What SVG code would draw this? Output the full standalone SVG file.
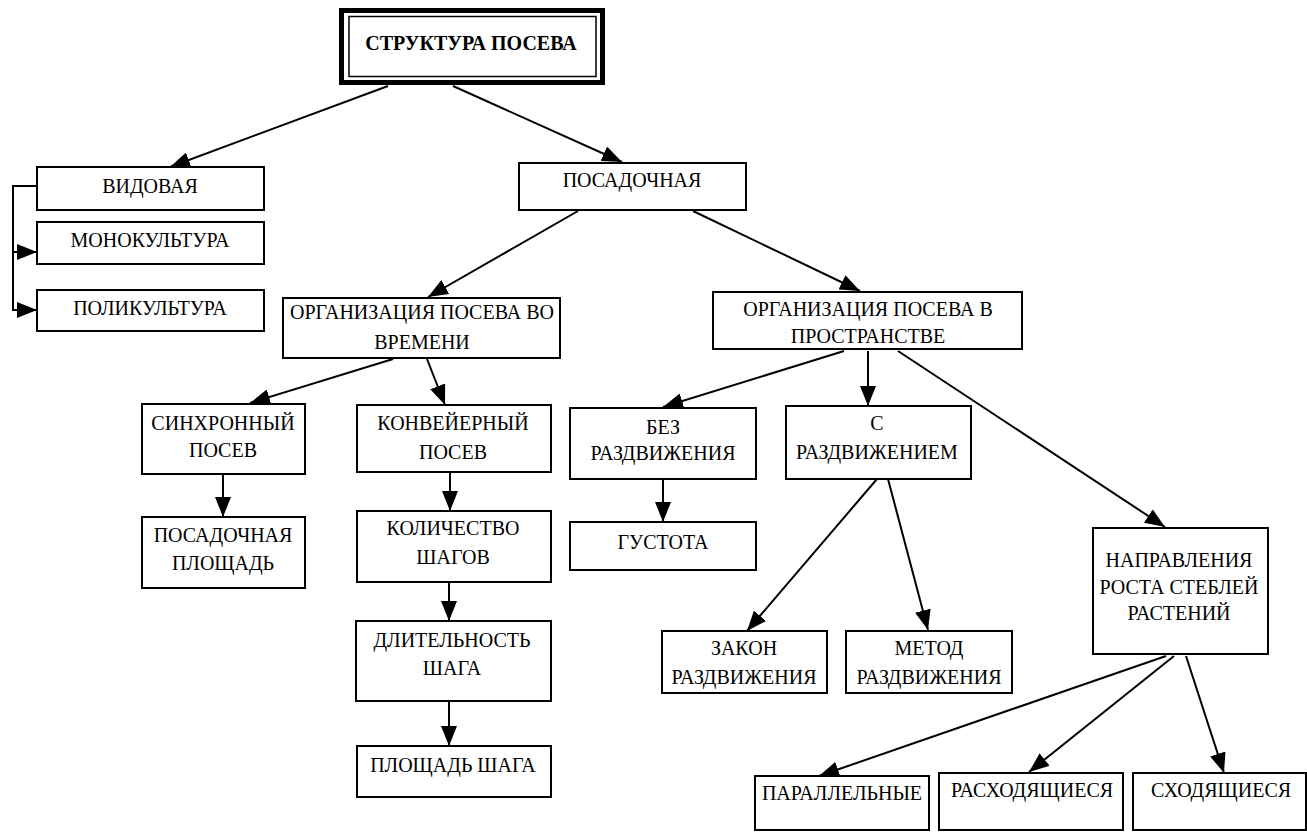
<svg xmlns="http://www.w3.org/2000/svg" width="1307" height="832" viewBox="0 0 1307 832">
<style>
.b{fill:#fff;stroke:#000;stroke-width:2}
.t{font-family:"Liberation Serif","Times New Roman",serif;font-size:20px;fill:#000;text-anchor:middle}
.c{fill:none;stroke:#000;stroke-width:2;marker-end:url(#ah)}
.p{fill:none;stroke:#000;stroke-width:2}
</style>
<defs>
<marker id="ah" markerUnits="userSpaceOnUse" markerWidth="20" markerHeight="16" viewBox="0 0 20 16" refX="20" refY="8" orient="auto">
<path d="M0,0 L20,8 L0,16 Z" fill="#000"/>
</marker>
</defs>
<rect width="1307" height="832" fill="#fff"/>
<g id="connectors">
<line class="c" x1="388" y1="86" x2="170" y2="167"/>
<line class="c" x1="453" y1="86" x2="622" y2="162"/>
<polyline class="p" points="37,186 13,186 13,311"/>
<line class="c" x1="13" y1="252" x2="37" y2="252"/>
<line class="c" x1="13" y1="310" x2="37" y2="310"/>
<line class="c" x1="578" y1="211" x2="428" y2="297"/>
<line class="c" x1="693" y1="211" x2="860" y2="291"/>
<line class="c" x1="393" y1="359" x2="250" y2="403"/>
<line class="c" x1="427" y1="359" x2="445" y2="405"/>
<line class="c" x1="223" y1="474" x2="223" y2="517"/>
<line class="c" x1="450" y1="473" x2="450" y2="511"/>
<line class="c" x1="449" y1="583" x2="449" y2="621"/>
<line class="c" x1="449" y1="702" x2="449" y2="746"/>
<line class="c" x1="844" y1="351" x2="663" y2="407"/>
<line class="c" x1="868" y1="351" x2="868" y2="406"/>
<line class="c" x1="898" y1="351" x2="1165" y2="527"/>
<line class="c" x1="663" y1="479" x2="663" y2="522"/>
<line class="c" x1="877" y1="479" x2="747" y2="631"/>
<line class="c" x1="888" y1="479" x2="928" y2="630"/>
<line class="c" x1="1166" y1="656" x2="819" y2="776"/>
<line class="c" x1="1174" y1="656" x2="1029" y2="772"/>
<line class="c" x1="1186" y1="656" x2="1224" y2="773"/>
</g>
<g id="n-root">
<rect x="341.5" y="10.5" width="261" height="72" fill="#fff" stroke="#000" stroke-width="5"/>
<rect x="349" y="16.5" width="247" height="60" fill="none" stroke="#000" stroke-width="1.5"/>
<text class="t" x="471" y="50" style="font-weight:bold">СТРУКТУРА ПОСЕВА</text>
</g>
<g id="n-vidovaya"><rect class="b" x="37" y="167" width="227" height="43"/><text class="t" x="150" y="193">ВИДОВАЯ</text></g>
<g id="n-mono"><rect class="b" x="37" y="222" width="227" height="42"/><text class="t" x="150" y="247">МОНОКУЛЬТУРА</text></g>
<g id="n-poly"><rect class="b" x="37" y="290" width="227" height="41"/><text class="t" x="150" y="315">ПОЛИКУЛЬТУРА</text></g>
<g id="n-posad"><rect class="b" x="519" y="163" width="227" height="47"/><text class="t" x="632" y="187">ПОСАДОЧНАЯ</text></g>
<g id="n-time"><rect class="b" x="283" y="298" width="277" height="60"/><text class="t" x="422" y="319">ОРГАНИЗАЦИЯ ПОСЕВА ВО</text><text class="t" x="422" y="349">ВРЕМЕНИ</text></g>
<g id="n-space"><rect class="b" x="713" y="292" width="309" height="57"/><text class="t" x="868" y="316">ОРГАНИЗАЦИЯ ПОСЕВА В</text><text class="t" x="868" y="343">ПРОСТРАНСТВЕ</text></g>
<g id="n-sync"><rect class="b" x="142" y="404" width="163" height="70"/><text class="t" x="223" y="430">СИНХРОННЫЙ</text><text class="t" x="223" y="457">ПОСЕВ</text></g>
<g id="n-conv"><rect class="b" x="357" y="405" width="194" height="67"/><text class="t" x="453" y="430">КОНВЕЙЕРНЫЙ</text><text class="t" x="453" y="459">ПОСЕВ</text></g>
<g id="n-area"><rect class="b" x="142" y="517" width="163" height="71"/><text class="t" x="223" y="542">ПОСАДОЧНАЯ</text><text class="t" x="223" y="570">ПЛОЩАДЬ</text></g>
<g id="n-count"><rect class="b" x="357" y="511" width="194" height="71"/><text class="t" x="453" y="535">КОЛИЧЕСТВО</text><text class="t" x="453" y="564">ШАГОВ</text></g>
<g id="n-dur"><rect class="b" x="356" y="621" width="195" height="80"/><text class="t" x="452" y="647">ДЛИТЕЛЬНОСТЬ</text><text class="t" x="452" y="675">ШАГА</text></g>
<g id="n-steparea"><rect class="b" x="357" y="746" width="194" height="51"/><text class="t" x="453" y="772">ПЛОЩАДЬ ШАГА</text></g>
<g id="n-noexp"><rect class="b" x="570" y="408" width="186" height="71"/><text class="t" x="663" y="434">БЕЗ</text><text class="t" x="663" y="460">РАЗДВИЖЕНИЯ</text></g>
<g id="n-dens"><rect class="b" x="570" y="522" width="186" height="48"/><text class="t" x="663" y="549">ГУСТОТА</text></g>
<g id="n-exp"><rect class="b" x="786" y="406" width="185" height="73"/><text class="t" x="877" y="430">С</text><text class="t" x="877" y="459">РАЗДВИЖЕНИЕМ</text></g>
<g id="n-law"><rect class="b" x="662" y="631" width="165" height="62"/><text class="t" x="744" y="655">ЗАКОН</text><text class="t" x="744" y="684">РАЗДВИЖЕНИЯ</text></g>
<g id="n-method"><rect class="b" x="846" y="631" width="166" height="62"/><text class="t" x="929" y="655">МЕТОД</text><text class="t" x="929" y="684">РАЗДВИЖЕНИЯ</text></g>
<g id="n-dir"><rect class="b" x="1093" y="528" width="175" height="126"/><text class="t" x="1179" y="567">НАПРАВЛЕНИЯ</text><text class="t" x="1179" y="594">РОСТА СТЕБЛЕЙ</text><text class="t" x="1179" y="620">РАСТЕНИЙ</text></g>
<g id="n-par"><rect class="b" x="755" y="776" width="174" height="54"/><text class="t" x="842" y="800">ПАРАЛЛЕЛЬНЫЕ</text></g>
<g id="n-div"><rect class="b" x="939" y="773" width="184" height="57"/><text class="t" x="1032" y="797">РАСХОДЯЩИЕСЯ</text></g>
<g id="n-conv2"><rect class="b" x="1133" y="773" width="173" height="57"/><text class="t" x="1221" y="797">СХОДЯЩИЕСЯ</text></g>
</svg>
